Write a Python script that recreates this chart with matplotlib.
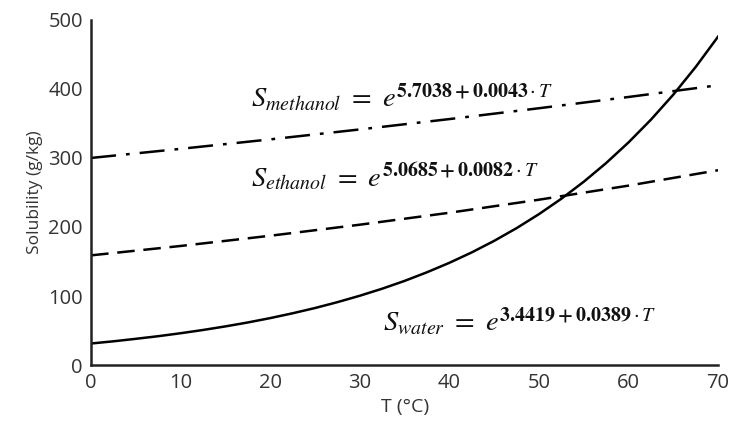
import matplotlib
matplotlib.use("Agg")
import matplotlib.pyplot as plt

# values
temp_fine = [0, 2.5, 5, 7.5, 10, 12.5, 15, 17.5, 20, 22.5, 25, 27.5, 30, 32.5, 35,
             37.5, 40, 42.5, 45, 47.5, 50, 52.5, 55, 57.5, 60, 62.5, 65, 67.5, 70]
s_water = [31.2, 34.4, 38.0, 41.8, 46.1, 50.8, 56.0, 61.7, 68.0, 75.0, 82.6, 91.1,
           100.4, 110.6, 121.9, 134.4, 148.1, 163.2, 179.9, 198.3, 218.6, 240.9,
           265.5, 292.6, 322.5, 355.4, 391.7, 431.8, 475.8]
temp = [0, 10, 20, 30, 40, 50, 60, 70]
s_methanol = [300.0, 313.2, 326.9, 341.3, 356.3, 372.0, 388.3, 405.3]
s_ethanol = [158.9, 172.5, 187.3, 203.3, 220.6, 239.5, 259.9, 282.2]

x_ticks = [0, 10, 20, 30, 40, 50, 60, 70]
y_ticks = [0, 100, 200, 300, 400, 500]

plt.rcParams['font.family'] = ['Open Sans', 'DejaVu Sans']
plt.rcParams['mathtext.fontset'] = 'stix'

fig = plt.figure(figsize=(7.35, 4.32), dpi=100)
ax = fig.add_axes([0.124, 0.155, 0.853, 0.799])

ax.plot(temp, s_methanol, color='black', lw=1.8, dashes=(10, 4, 1.5, 4))
ax.plot(temp, s_ethanol, color='black', lw=1.8, dashes=(7, 3.5))
ax.plot(temp_fine, s_water, color='black', lw=1.8)

ax.set_xlim(0, 70)
ax.set_ylim(0, 500)
ax.set_xticks(x_ticks)
ax.set_yticks(y_ticks)
ax.tick_params(length=0, labelsize=14.5, colors='#333333', pad=6)
for side in ['top', 'right']:
    ax.spines[side].set_visible(False)
for side in ['left', 'bottom']:
    ax.spines[side].set_linewidth(1.8)
    ax.spines[side].set_color('#222222')

ax.set_xlabel('T (°C)', fontsize=14, color='#333333', labelpad=3)
ax.set_ylabel('Solubility (g/kg)', fontsize=12.5, color='#333333', labelpad=4)

eq_style = dict(fontsize=20.5, color='#111111', va='center', ha='left')
ax.text(17.8, 387, r'$S_{methanol}\ =\ e^{\mathbf{5.7038+0.0043}\cdot T}$', **eq_style)
ax.text(17.8, 272, r'$S_{ethanol}\ =\ e^{\mathbf{5.0685+0.0082}\cdot T}$', **eq_style)
ax.text(32.6, 63, r'$S_{water}\ =\ e^{\mathbf{3.4419+0.0389}\cdot T}$', **eq_style)

fig.savefig('out.png', dpi=100)
